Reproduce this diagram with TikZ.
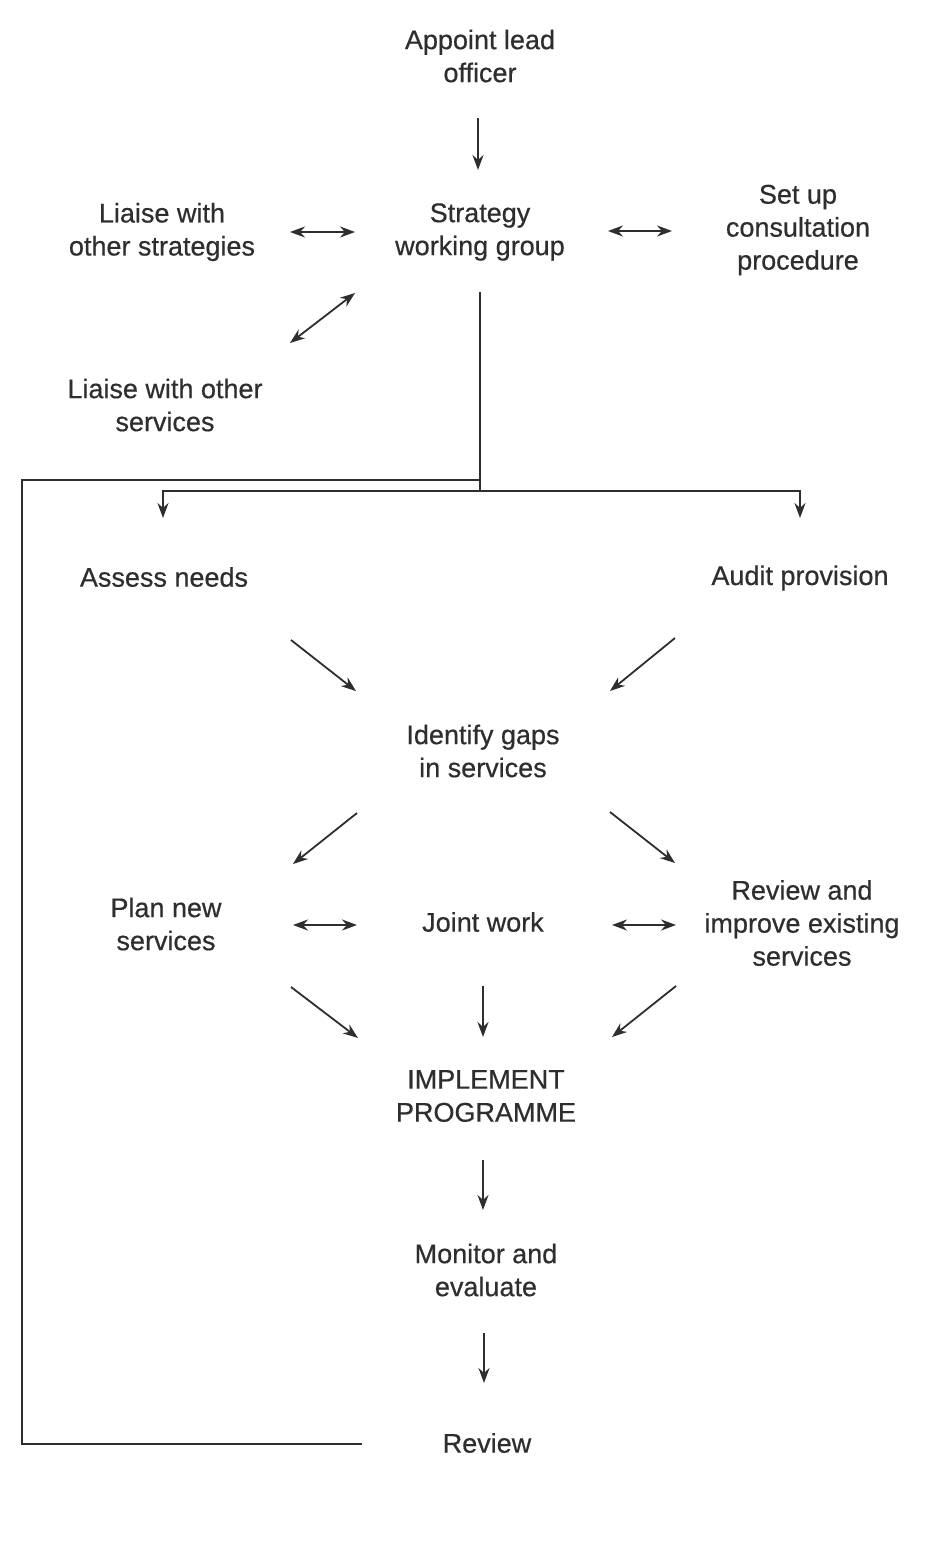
\documentclass[tikz,border=0pt]{standalone}
\usepackage{fontspec}
\setmainfont[FakeBold=0.5]{Liberation Sans}
\usetikzlibrary{arrows.meta,calc}
\definecolor{ink}{HTML}{2E2E2E}
\begin{document}
\begin{tikzpicture}[x=1pt,y=-1pt,
  lbl/.style={align=center,inner sep=0pt,text=ink,font=\fontsize{27}{33}\selectfont},
  ln/.style={draw=ink,line width=1.8pt},
  arr/.style={ln,-{Stealth[length=15pt,width=11pt]}},
  darr/.style={ln,{Stealth[length=15pt,width=11pt]}-{Stealth[length=15pt,width=11pt]}}]
\useasboundingbox (0,0) rectangle (946,1545);
\fill[white] (0,0) rectangle (946,1545);
% nodes
\node[lbl] (lead) at (480,56) {Appoint lead\\officer};
\node[lbl] (swg) at (480,232) {Strategy\\working group};
\node[lbl] (lstrat) at (162,232) {Liaise with\\other strategies};
\node[lbl] (consult) at (798,230) {Set up\\consultation\\procedure};
\node[lbl] (lserv) at (165,405) {Liaise with other\\services};
\node[lbl] (assess) at (164,577) {Assess needs};
\node[lbl] (audit) at (800,578) {Audit provision};
\node[lbl] (gaps) at (483,751) {Identify gaps\\in services};
\node[lbl] (plan) at (166,924) {Plan new\\services};
\node[lbl] (joint) at (483,922) {Joint work};
\node[lbl] (improve) at (802,923) {Review and\\improve existing\\services};
\node[lbl] (impl) at (486,1096) {IMPLEMENT\\PROGRAMME};
\node[lbl] (mon) at (486,1270) {Monitor and\\evaluate};
\node[lbl] (rev) at (487,1443) {Review};
\coordinate (split) at (480,491);
% connectors
\draw[arr] ($(lead)+(-2,62)$) -- ($(swg)+(-2,-62)$);
\draw[darr] ($(lstrat)+(128,0)$) -- ($(swg)+(-125,0)$);
\draw[darr] ($(swg)+(128,-1)$) -- ($(consult)+(-126,1)$);
\draw[darr] ($(swg)+(-125,61)$) -- ($(lserv)+(125,-62)$);
\draw[ln] ($(swg)+(0,60)$) -- (split);
\draw[arr] (split) -| ($(assess)+(-1,-59)$);
\draw[arr] (split) -| ($(audit)+(0,-60)$);
\draw[ln] ($(rev)+(-125,1)$) -| ($(swg)+(-458,248)$) -- ($(swg)+(0,248)$);
\draw[arr] ($(assess)+(127,63)$) -- ($(gaps)+(-127,-60)$);
\draw[arr] ($(audit)+(-125,60)$) -- ($(gaps)+(127,-60)$);
\draw[arr] ($(gaps)+(-126,62)$) -- ($(plan)+(127,-60)$);
\draw[arr] ($(gaps)+(127,61)$) -- ($(improve)+(-127,-60)$);
\draw[darr] ($(plan)+(127,1)$) -- ($(joint)+(-126,3)$);
\draw[darr] ($(joint)+(129,3)$) -- ($(improve)+(-126,2)$);
\draw[arr] ($(plan)+(125,63)$) -- ($(impl)+(-128,-58)$);
\draw[arr] ($(improve)+(-126,63)$) -- ($(impl)+(126,-59)$);
\draw[arr] ($(joint)+(0,64)$) -- ($(impl)+(-3,-59)$);
\draw[arr] ($(impl)+(-3,64)$) -- ($(mon)+(-3,-60)$);
\draw[arr] ($(mon)+(-2,63)$) -- ($(rev)+(-3,-60)$);
\end{tikzpicture}
\end{document}
